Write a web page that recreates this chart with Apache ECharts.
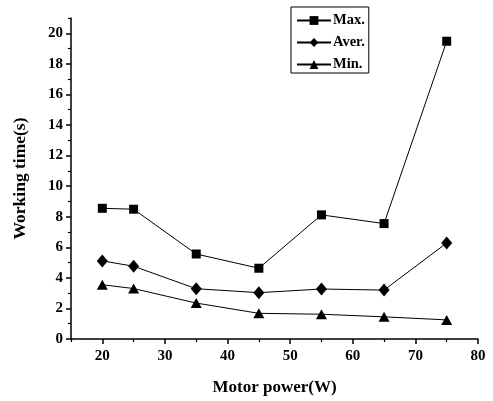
<!DOCTYPE html>
<html>
<head>
<meta charset="utf-8">
<script src="https://cdn.jsdelivr.net/npm/echarts@6/dist/echarts.min.js"></script>
<style>
  html, body { margin: 0; padding: 0; background: #fff; }
  #chart { width: 493px; height: 401px; }
</style>
</head>
<body>
<div id="chart"></div>
<script>
// motor power (W)
var power = [20, 25, 35, 45, 55, 65, 75];

// working time (s)
var maxTime = [8.55, 8.49, 5.56, 4.63, 8.12, 7.55, 19.48];
var averTime = [5.11, 4.76, 3.29, 3.03, 3.27, 3.2, 6.28];
var minTime = [3.55, 3.3, 2.35, 1.68, 1.62, 1.45, 1.25];

var xMajor = [20, 30, 40, 50, 60, 70, 80];
var xMinor = [15, 25, 35, 45, 55, 65, 75];
var yMajor = [0, 2, 4, 6, 8, 10, 12, 14, 16, 18, 20];
var yMinor = [1, 3, 5, 7, 9, 11, 13, 15, 17, 19, 21];

function pairs(ys) {
    return power.map(function(x, i) { return [x, ys[i]]; });
}

var font = 'Liberation Serif, Times New Roman, serif';
var black = '#000';

var myChart = echarts.init(document.getElementById('chart'));

var option = {
    animation: false,
    backgroundColor: '#fff',
    grid: { left: 71, right: 15, top: 18, bottom: 60 },
    legend: {
        orient: 'vertical',
        left: 291,
        top: 7,
        padding: [6, 4, 1, 5],
        itemGap: 7,
        itemWidth: 34,
        itemHeight: 11,
        borderColor: black,
        borderWidth: 1,
        textStyle: { fontFamily: font, fontWeight: 'bold', fontSize: 14.5, color: black, padding: [0, 0, 0, -3] },
        data: ['Max.', 'Aver.', 'Min.']
    },
    xAxis: [{
        type: 'value',
        min: 15,
        max: 80,
        name: 'Motor power(W)',
        nameLocation: 'middle',
        nameGap: 40,
        nameTextStyle: { fontFamily: font, fontWeight: 'bold', fontSize: 17, color: black },
        axisLine: { lineStyle: { color: black, width: 1.5 } },
        axisTick: { customValues: xMajor, length: 5, lineStyle: { color: black, width: 1.5 } },
        axisLabel: { customValues: xMajor, margin: 10, fontFamily: font, fontWeight: 'bold', fontSize: 15, color: black },
        splitLine: { show: false }
    }, {
        type: 'value',
        min: 15,
        max: 80,
        position: 'bottom',
        axisLine: { show: false },
        axisTick: { customValues: xMinor, length: 3, lineStyle: { color: black, width: 1.2 } },
        axisLabel: { show: false },
        splitLine: { show: false }
    }],
    yAxis: [{
        type: 'value',
        min: 0,
        max: 21,
        name: 'Working time(s)',
        nameLocation: 'middle',
        nameGap: 42,
        nameTextStyle: { fontFamily: font, fontWeight: 'bold', fontSize: 17.5, color: black },
        axisLine: { lineStyle: { color: black, width: 1.5 } },
        axisTick: { customValues: yMajor, length: 5, lineStyle: { color: black, width: 1.5 } },
        axisLabel: { customValues: yMajor, margin: 8, fontFamily: font, fontWeight: 'bold', fontSize: 15, color: black },
        splitLine: { show: false }
    }, {
        type: 'value',
        min: 0,
        max: 21,
        position: 'left',
        axisLine: { show: false },
        axisTick: { customValues: yMinor, length: 3, lineStyle: { color: black, width: 1.2 } },
        axisLabel: { show: false },
        splitLine: { show: false }
    }],
    series: [{
        name: 'Max.',
        type: 'line',
        data: pairs(maxTime),
        symbol: 'rect',
        symbolSize: 9,
        itemStyle: { color: black },
        lineStyle: { color: black, width: 1 }
    }, {
        name: 'Aver.',
        type: 'line',
        data: pairs(averTime),
        symbol: 'diamond',
        symbolSize: [11, 13],
        itemStyle: { color: black },
        lineStyle: { color: black, width: 1 }
    }, {
        name: 'Min.',
        type: 'line',
        data: pairs(minTime),
        symbol: 'triangle',
        symbolSize: [11, 10],
        itemStyle: { color: black },
        lineStyle: { color: black, width: 1 }
    }]
};

myChart.setOption(option);
</script>
</body>
</html>
